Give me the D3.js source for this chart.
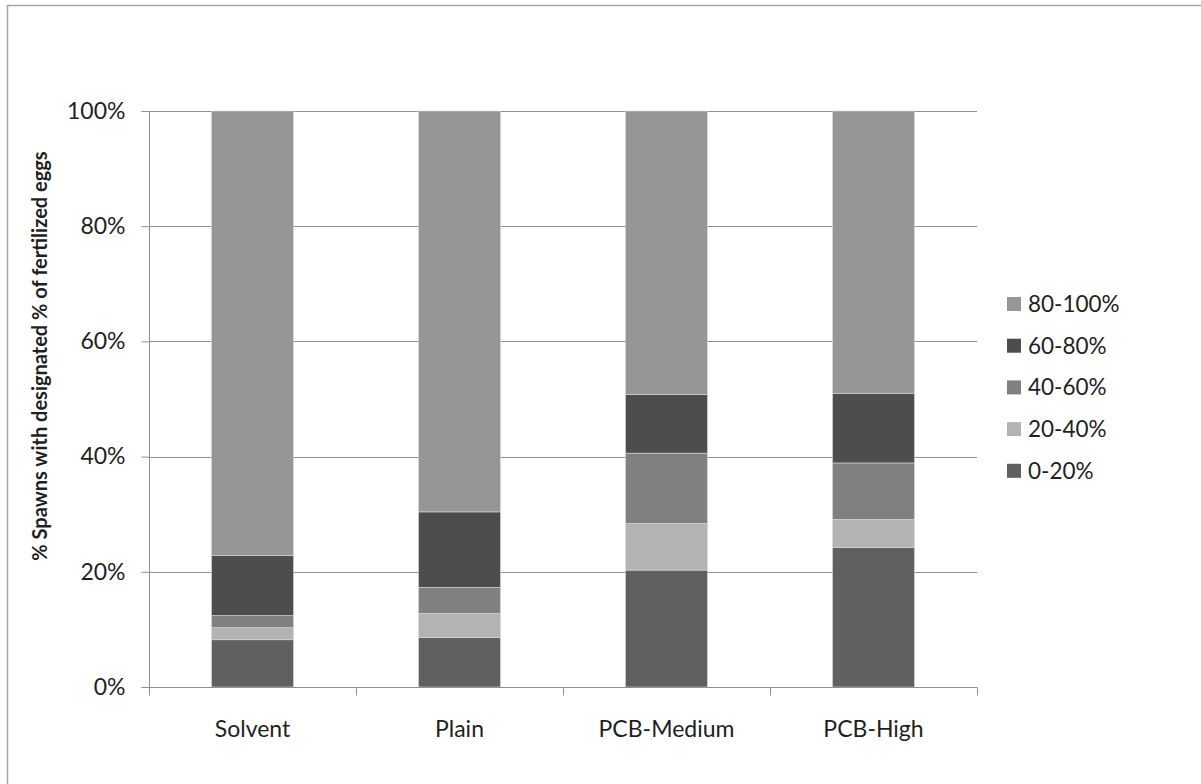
<!DOCTYPE html>
<html>
<head>
<meta charset="utf-8">
<script src="https://cdn.jsdelivr.net/npm/d3@7"></script>
<style>
  html, body { margin: 0; padding: 0; background: #fff; }
  svg text { font-family: Lato, "Open Sans", sans-serif; fill: #1f1f1f; }
</style>
</head>
<body>
<svg id="chart" width="1201" height="784"></svg>
<script>
// ---- data ----
const categories = ["Solvent", "Plain", "PCB-Medium", "PCB-High"];
const seriesNames = ["0-20%", "20-40%", "40-60%", "60-80%", "80-100%"];
const s0_20   = [8.2, 8.6, 20.3, 24.2];
const s20_40  = [2.1, 4.2, 8.1, 4.9];
const s40_60  = [2.1, 4.5, 12.2, 9.8];
const s60_80  = [10.4, 13.1, 10.2, 12.1];
const s80_100 = [77.2, 69.6, 49.2, 49.0];
const yTicks = [0, 20, 40, 60, 80, 100];
const yTitle = "% Spawns with designated % of fertilized eggs";

const seriesValues = [s0_20, s20_40, s40_60, s60_80, s80_100];
const colors = ["#606060", "#b3b3b3", "#7f817f", "#4d4d4d", "#969696"];

// ---- layout ----
const svg = d3.select("#chart");
const pLeft = 149, pRight = 977, pTop = 111, pBottom = 687;

// outer border (only top & left visible)
svg.append("path")
  .attr("d", "M7.5,1210 L7.5,5.5 L1210,5.5")
  .attr("fill", "none").attr("stroke", "#a6a6a6").attr("stroke-width", 1.5);

const x = d3.scaleBand().domain(categories).range([pLeft, pRight])
  .paddingInner(0.604).paddingOuter(0.302);
const y = d3.scaleLinear().domain([0, 100]).range([pBottom, pTop]);

// gridlines
svg.append("g").selectAll("line").data(yTicks.filter(d => d > 0)).join("line")
  .attr("x1", pLeft).attr("x2", pRight)
  .attr("y1", d => Math.round(y(d)) + 0.5).attr("y2", d => Math.round(y(d)) + 0.5)
  .attr("stroke", "#8f8f8f").attr("stroke-width", 1);

// stacked data
const rows = categories.map((c, i) => {
  const o = { cat: c };
  seriesNames.forEach((s, k) => o[s] = seriesValues[k][i]);
  return o;
});
const stacked = d3.stack().keys(seriesNames)(rows);

svg.append("g").selectAll("g").data(stacked).join("g")
  .attr("fill", (d, i) => colors[i])
  .selectAll("rect").data(d => d).join("rect")
  .attr("x", d => x(d.data.cat))
  .attr("width", x.bandwidth())
  .attr("y", d => y(d[1]))
  .attr("height", d => y(d[0]) - y(d[1]))
  .attr("stroke", "#d9d9d9").attr("stroke-width", 0.6);

// y axis
const yAxis = d3.axisLeft(y).tickValues(yTicks).tickFormat(d => d + "%")
  .tickSize(8).tickPadding(16);
const gy = svg.append("g").attr("transform", `translate(${pLeft + 0.5},0)`).call(yAxis);
gy.select(".domain").attr("stroke", "#8f8f8f").attr("d", `M0,${pTop}V${pBottom}`);
gy.selectAll(".tick line").attr("stroke", "#8f8f8f");
gy.selectAll(".tick text").attr("font-size", 23).attr("font-family", "Lato").attr("fill", "#1f1f1f");

// x axis
const gx = svg.append("g").attr("transform", `translate(0,${pBottom + 0.5})`);
gx.append("line").attr("x1", pLeft).attr("x2", pRight).attr("y1", 0).attr("y2", 0)
  .attr("stroke", "#8f8f8f");
const edges = [pLeft].concat(categories.map((c, i) => pLeft + x.step() * (i + 1)));
gx.selectAll("line.tk").data(edges).join("line").attr("class", "tk")
  .attr("x1", d => Math.round(d) + 0.5).attr("x2", d => Math.round(d) + 0.5)
  .attr("y1", 0).attr("y2", 8).attr("stroke", "#8f8f8f");
gx.selectAll("text").data(categories).join("text")
  .attr("x", d => x(d) + x.bandwidth() / 2)
  .attr("y", 49)
  .attr("text-anchor", "middle")
  .attr("font-size", 23)
  .text(d => d);

// y title
svg.append("text")
  .attr("transform", "translate(47,356) rotate(-90)")
  .attr("text-anchor", "middle")
  .attr("font-size", 20)
  .attr("font-weight", "bold")
  .text(yTitle);

// legend (reverse order, top = 80-100%)
const legendItems = seriesNames.map((s, i) => ({ name: s, color: colors[i] })).reverse();
const lg = svg.append("g");
const lgItem = lg.selectAll("g").data(legendItems).join("g")
  .attr("transform", (d, i) => `translate(1007,${304 + i * 41.7})`);
lgItem.append("rect").attr("x", 0).attr("y", -7).attr("width", 14).attr("height", 14)
  .attr("fill", d => d.color);
lgItem.append("text").attr("x", 21).attr("y", 8).attr("font-size", 22.5).text(d => d.name);
</script>
</body>
</html>
